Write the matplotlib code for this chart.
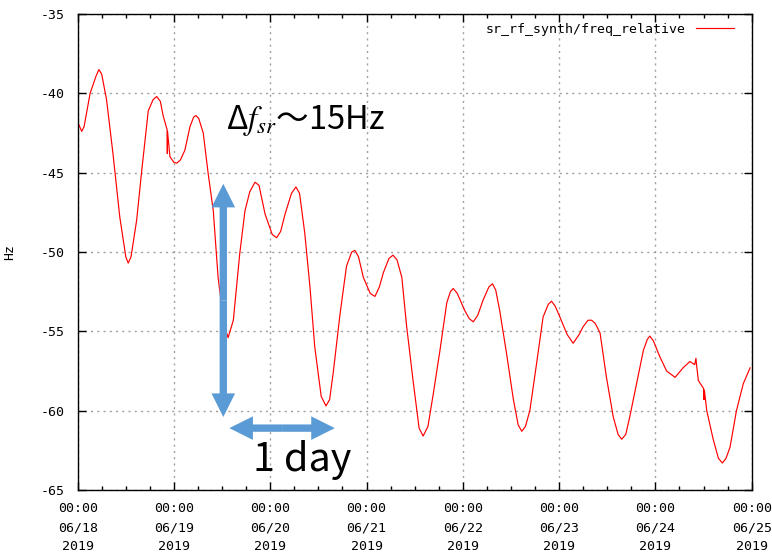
import pandas as pd
import matplotlib
matplotlib.use("Agg")
import matplotlib.pyplot as plt
import matplotlib.dates as mdates
from matplotlib.patches import FancyArrowPatch

# Zeit in Stunden ab 2019-06-18 00:00, Werte in Hz
hours = [0.0, 1.0, 1.6, 3.1, 4.6, 5.3, 6.0, 7.2, 8.8, 10.5, 12.0, 12.6, 13.3, 14.7,
         16.0, 17.6, 18.8, 19.7, 20.6, 21.3, 22.3, 22.35, 22.4, 23.0, 24.0, 24.7,
         25.6, 26.7, 28.0, 28.9, 29.5, 30.2, 31.3, 32.5, 33.8, 35.0, 36.5, 37.5,
         38.8, 40.4, 41.7, 42.9, 44.2, 45.2, 46.7, 48.5, 49.6, 50.6, 51.7, 53.3,
         54.4, 55.3, 56.6, 57.9, 59.1, 60.7, 61.9, 62.8, 63.7, 65.4, 67.0, 68.3,
         69.1, 70.0, 71.2, 72.9, 74.1, 75.2, 76.2, 77.6, 78.6, 79.6, 80.8, 82.0,
         83.6, 85.1, 86.1, 87.3, 88.6, 90.3, 92.0, 92.9, 93.6, 94.6, 96.5, 97.6,
         98.6, 99.7, 101.1, 102.5, 103.4, 104.2, 105.2, 106.9, 108.6, 109.8,
         110.7, 111.6, 112.7, 114.4, 116.0, 117.3, 118.1, 119.0, 120.2, 122.0,
         123.5, 125.0, 126.0, 127.2, 128.1, 129.0, 130.2, 131.8, 133.5, 134.7,
         135.6, 136.6, 137.6, 139.3, 141.0, 142.0, 142.6, 143.5, 145.1, 146.8,
         148.9, 150.9, 152.6, 153.8, 154.1, 154.3, 154.7, 156.0, 156.1, 156.2,
         156.8, 158.4, 159.7, 160.7, 161.6, 162.6, 164.2, 165.9, 167.6]
freq = [-41.8, -42.4, -42.1, -40.0, -38.9, -38.5, -38.8, -40.4, -43.8, -47.8,
        -50.3, -50.7, -50.3, -48.0, -44.8, -41.1, -40.4, -40.2, -40.5, -41.4,
        -42.3, -43.8, -42.4, -44.0, -44.35, -44.4, -44.2, -43.6, -42.1, -41.5,
        -41.4, -41.6, -42.5, -45.0, -47.4, -51.6, -54.6, -55.4, -54.3, -50.1,
        -47.4, -46.2, -45.6, -45.8, -47.6, -48.9, -49.1, -48.7, -47.6, -46.3,
        -45.9, -46.3, -48.8, -52.2, -56.0, -59.1, -59.7, -59.3, -57.6, -53.9,
        -50.9, -50.0, -49.9, -50.3, -51.6, -52.6, -52.8, -52.2, -51.3, -50.4,
        -50.2, -50.5, -51.6, -54.7, -58.1, -61.1, -61.6, -61.0, -59.0, -56.2,
        -53.2, -52.5, -52.3, -52.6, -53.7, -54.2, -54.4, -54.0, -53.0, -52.2,
        -52.0, -52.4, -53.7, -56.4, -59.3, -60.9, -61.3, -61.0, -60.0, -57.0,
        -54.1, -53.3, -53.1, -53.4, -54.1, -55.2, -55.75, -55.2, -54.7, -54.3,
        -54.3, -54.5, -55.1, -57.9, -60.4, -61.5, -61.8, -61.5, -60.4, -58.3,
        -56.2, -55.5, -55.3, -55.6, -56.6, -57.5, -57.9, -57.3, -56.9, -57.1,
        -56.7, -57.2, -58.1, -58.6, -59.3, -58.7, -60.0, -61.8, -63.0, -63.3,
        -63.0, -62.3, -60.0, -58.3, -57.3]

series_name = "sr_rf_synth/freq_relative"
start_day = "2019-06-18"
end_day = "2019-06-25"
y_min, y_max = -65, -35

# Pfeile (Stunden, Hz) und Beschriftungen
v_arrow_x = 36.3
v_arrow_y = (-45.7, -60.4)
h_arrow_y = -61.1
h_arrow_x = (37.8, 64.1)
label_df = "Δ$f_{sr}$～15Hz"
label_day = "1 day"

plt.rcParams["mathtext.fontset"] = "stix"
plt.rcParams["axes.unicode_minus"] = False
mono = "DejaVu Sans Mono"
big_font = ["Noto Sans CJK JP", "DejaVu Sans"]

t0 = pd.Timestamp(start_day)
times = t0 + pd.to_timedelta(hours, unit="h")

def to_time(h):
    return mdates.date2num(t0 + pd.Timedelta(hours=h))

fig = plt.figure(figsize=(7.72, 5.6), dpi=100)
ax = fig.add_axes([0.1006, 0.125, 0.8731, 0.85])

ax.plot(times, freq, color="red", lw=0.85, label=series_name)

ax.set_xlim(pd.Timestamp(start_day), pd.Timestamp(end_day))
ax.set_ylim(y_min, y_max)
ax.xaxis.set_major_locator(mdates.DayLocator())
ax.xaxis.set_minor_locator(mdates.HourLocator(byhour=[6, 12, 18]))
ax.xaxis.set_major_formatter(mdates.DateFormatter("%H:%M\n%m/%d\n%Y"))
ax.set_yticks(range(y_min, y_max + 1, 5))

ax.grid(True, which="major", color="#a0a0a0", linestyle=(0, (1.5, 3)), lw=1.0)
ax.tick_params(which="both", direction="in", top=True, right=True)
ax.tick_params(which="major", length=6, width=1, pad=9, labelsize=9.5)
ax.tick_params(which="minor", length=3, width=1)
for lbl in ax.get_xticklabels() + ax.get_yticklabels():
    lbl.set_family(mono)
for sp in ax.spines.values():
    sp.set_linewidth(1.0)

ax.set_ylabel("Hz", family=mono, fontsize=9.5, labelpad=18)

leg = ax.legend(loc="upper right", bbox_to_anchor=(0.9738, 0.982), frameon=False,
                markerfirst=False, borderpad=0, borderaxespad=0, handlelength=2.9,
                handletextpad=0.8, prop={"family": mono, "size": 9.5})

# Doppelpfeile: je zwei Pfeile von der Mitte nach aussen
arrow_style = "simple,head_length=17,head_width=17,tail_width=5.3"
arrow_color = "#5B9BD5"
v_mid = sum(v_arrow_y) / 2
h_mid = sum(h_arrow_x) / 2
for yy in v_arrow_y:
    ax.add_patch(FancyArrowPatch((to_time(v_arrow_x), v_mid), (to_time(v_arrow_x), yy),
                                 arrowstyle=arrow_style, color=arrow_color, lw=0,
                                 shrinkA=0, shrinkB=0, zorder=3))
for xx in h_arrow_x:
    ax.add_patch(FancyArrowPatch((to_time(h_mid), h_arrow_y), (to_time(xx), h_arrow_y),
                                 arrowstyle=arrow_style, color=arrow_color, lw=0,
                                 shrinkA=0, shrinkB=0, zorder=3))

ax.text(to_time(37.0), -42.25, label_df, family=big_font, fontsize=23.5,
        ha="left", va="baseline", zorder=4)
ax.text(to_time(43.6), -63.8, label_day, family=big_font, fontsize=28.5,
        ha="left", va="baseline", zorder=4)

fig.canvas.draw()
for lbl in ax.get_xticklabels():
    lbl.set_linespacing(1.6)
    lbl.set_family(mono)

fig.savefig("out.png", dpi=100)
